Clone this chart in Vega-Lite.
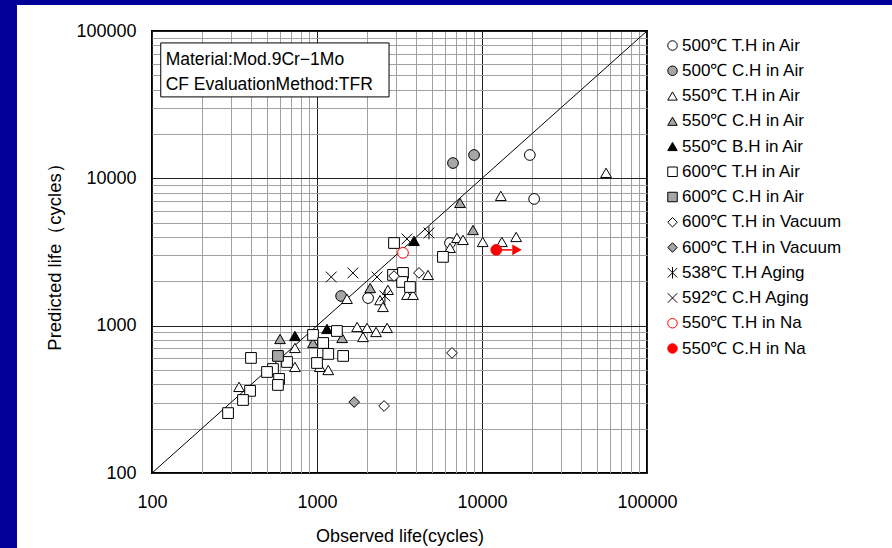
{
  "$schema": "https://vega.github.io/schema/vega-lite/v6.json",
  "autosize": {"type": "none"},
  "width": 495,
  "height": 442,
  "padding": {"left": 152, "top": 31, "right": 245, "bottom": 75},
  "background": "white",
  "config": {
    "font": "Liberation Sans",
    "view": {"stroke": "black", "strokeWidth": 2},
    "legend": {"orient": "none", "legendX": 512, "legendY": 6, "labelFontSize": 17, "labelColor": "black", "symbolSize": 90, "rowPadding": 7.25, "labelOffset": 1, "symbolStrokeWidth": 1, "padding": 0, "labelLimit": 300, "title": null}
  },
  "datasets": {
    "pts": [
      {"s": "500℃ T.H in Air", "x": 19500, "y": 14400},
      {"s": "500℃ T.H in Air", "x": 20700, "y": 7250},
      {"s": "500℃ T.H in Air", "x": 2040, "y": 1540},
      {"s": "500℃ T.H in Air", "x": 6400, "y": 3640},
      {"s": "500℃ C.H in Air", "x": 6670, "y": 12700},
      {"s": "500℃ C.H in Air", "x": 8950, "y": 14400},
      {"s": "500℃ C.H in Air", "x": 1400, "y": 1590},
      {"s": "550℃ T.H in Air", "x": 56500, "y": 10900},
      {"s": "550℃ T.H in Air", "x": 13000, "y": 7600},
      {"s": "550℃ T.H in Air", "x": 7050, "y": 3940},
      {"s": "550℃ T.H in Air", "x": 7670, "y": 3820},
      {"s": "550℃ T.H in Air", "x": 6400, "y": 3370},
      {"s": "550℃ T.H in Air", "x": 10100, "y": 3700},
      {"s": "550℃ T.H in Air", "x": 13200, "y": 3700},
      {"s": "550℃ T.H in Air", "x": 16100, "y": 4000},
      {"s": "550℃ T.H in Air", "x": 4710, "y": 2210},
      {"s": "550℃ T.H in Air", "x": 3510, "y": 1620},
      {"s": "550℃ T.H in Air", "x": 3820, "y": 1620},
      {"s": "550℃ T.H in Air", "x": 1520, "y": 1520},
      {"s": "550℃ T.H in Air", "x": 2410, "y": 1490},
      {"s": "550℃ T.H in Air", "x": 2510, "y": 1340},
      {"s": "550℃ T.H in Air", "x": 2690, "y": 1750},
      {"s": "550℃ T.H in Air", "x": 1750, "y": 980},
      {"s": "550℃ T.H in Air", "x": 1900, "y": 838},
      {"s": "550℃ T.H in Air", "x": 2010, "y": 965},
      {"s": "550℃ T.H in Air", "x": 2280, "y": 906},
      {"s": "550℃ T.H in Air", "x": 2660, "y": 965},
      {"s": "550℃ T.H in Air", "x": 735, "y": 706},
      {"s": "550℃ T.H in Air", "x": 735, "y": 525},
      {"s": "550℃ T.H in Air", "x": 1170, "y": 500},
      {"s": "550℃ T.H in Air", "x": 1040, "y": 525},
      {"s": "550℃ T.H in Air", "x": 337, "y": 384},
      {"s": "550℃ C.H in Air", "x": 7360, "y": 6810},
      {"s": "550℃ C.H in Air", "x": 8820, "y": 4460},
      {"s": "550℃ C.H in Air", "x": 2100, "y": 1800},
      {"s": "550℃ C.H in Air", "x": 597, "y": 812},
      {"s": "550℃ C.H in Air", "x": 946, "y": 763},
      {"s": "550℃ C.H in Air", "x": 1420, "y": 825},
      {"s": "550℃ B.H in Air", "x": 3870, "y": 3760},
      {"s": "550℃ B.H in Air", "x": 1150, "y": 950},
      {"s": "550℃ B.H in Air", "x": 735, "y": 851},
      {"s": "600℃ T.H in Air", "x": 5800, "y": 2930},
      {"s": "600℃ T.H in Air", "x": 2930, "y": 3640},
      {"s": "600℃ T.H in Air", "x": 2890, "y": 2210},
      {"s": "600℃ T.H in Air", "x": 3320, "y": 2280},
      {"s": "600℃ T.H in Air", "x": 3280, "y": 1980},
      {"s": "600℃ T.H in Air", "x": 3660, "y": 1830},
      {"s": "600℃ T.H in Air", "x": 946, "y": 865},
      {"s": "600℃ T.H in Air", "x": 1320, "y": 920},
      {"s": "600℃ T.H in Air", "x": 1090, "y": 763},
      {"s": "600℃ T.H in Air", "x": 1170, "y": 643},
      {"s": "600℃ T.H in Air", "x": 1440, "y": 623},
      {"s": "600℃ T.H in Air", "x": 1000, "y": 558},
      {"s": "600℃ T.H in Air", "x": 398, "y": 604},
      {"s": "600℃ T.H in Air", "x": 658, "y": 567},
      {"s": "600℃ T.H in Air", "x": 541, "y": 508},
      {"s": "600℃ T.H in Air", "x": 498, "y": 485},
      {"s": "600℃ T.H in Air", "x": 589, "y": 435},
      {"s": "600℃ T.H in Air", "x": 580, "y": 396},
      {"s": "600℃ T.H in Air", "x": 393, "y": 361},
      {"s": "600℃ T.H in Air", "x": 356, "y": 313},
      {"s": "600℃ T.H in Air", "x": 289, "y": 255},
      {"s": "600℃ C.H in Air", "x": 580, "y": 623},
      {"s": "600℃ T.H in Vacuum", "x": 2550, "y": 285},
      {"s": "600℃ T.H in Vacuum", "x": 6580, "y": 653},
      {"s": "600℃ T.H in Vacuum", "x": 2930, "y": 2170},
      {"s": "600℃ T.H in Vacuum", "x": 4150, "y": 2280},
      {"s": "600℃ T.H in Vacuum ", "x": 1680, "y": 303},
      {"s": "538℃ T.H Aging", "x": 4770, "y": 4260},
      {"s": "538℃ T.H Aging", "x": 2580, "y": 1590},
      {"s": "592℃ C.H Aging", "x": 1220, "y": 2140},
      {"s": "592℃ C.H Aging", "x": 1650, "y": 2280},
      {"s": "592℃ C.H Aging", "x": 2310, "y": 2140},
      {"s": "592℃ C.H Aging", "x": 3510, "y": 3880},
      {"s": "550℃ T.H in Na", "x": 3320, "y": 3120},
      {"s": "550℃ C.H in Na", "x": 12200, "y": 3270}
    ],
    "diag": [{"x": 100, "y": 100}, {"x": 100000, "y": 100000}]
  },
  "layer": [
    {
      "data": {"values": [{}]},
      "mark": {"type": "rect", "fill": "#000099"},
      "encoding": {"x": {"value": -152}, "x2": {"value": -135}, "y": {"value": -31}, "y2": {"value": 517}}
    },
    {
      "data": {"values": [{}]},
      "mark": {"type": "rect", "fill": "#000099"},
      "encoding": {"x": {"value": -152}, "x2": {"value": 740}, "y": {"value": -31}, "y2": {"value": -26}}
    },
    {
      "data": {"name": "diag"},
      "mark": {"type": "line", "color": "black", "strokeWidth": 1},
      "encoding": {
        "x": {"field": "x", "type": "quantitative", "scale": {"type": "log", "domain": [100, 100000], "nice": false}},
        "y": {"field": "y", "type": "quantitative", "scale": {"type": "log", "domain": [100, 100000], "nice": false}}
      }
    },
    {
      "data": {"name": "pts"},
      "mark": {"type": "point", "opacity": 1, "strokeWidth": 1, "size": 115},
      "encoding": {
        "x": {
          "field": "x", "type": "quantitative",
          "scale": {"type": "log", "domain": [100, 100000], "nice": false},
          "axis": {
            "title": "Observed life(cycles)",
            "values": [100, 200, 300, 400, 500, 600, 700, 800, 900, 1000, 2000, 3000, 4000, 5000, 6000, 7000, 8000, 9000, 10000, 20000, 30000, 40000, 50000, 60000, 70000, 80000, 90000, 100000],
            "format": "d",
            "labelExpr": "datum.value == 100 || datum.value == 1000 || datum.value == 10000 || datum.value == 100000 ? datum.label : ''",
            "labelOverlap": false, "labelFlush": false, "labelBound": false,
            "grid": true,
            "gridColor": {"condition": {"test": "datum.value == 100 || datum.value == 1000 || datum.value == 10000 || datum.value == 100000", "value": "#202020"}, "value": "#a0a0a0"},
            "gridWidth": 1,
            "ticks": false, "domain": false,
            "labelFontSize": 18, "labelColor": "black", "labelPadding": 20,
            "titleFontSize": 18, "titleFontWeight": "normal", "titleColor": "black", "titlePadding": 16
          }
        },
        "y": {
          "field": "y", "type": "quantitative",
          "scale": {"type": "log", "domain": [100, 100000], "nice": false},
          "axis": {
            "title": "Predicted life（cycles）",
            "values": [100, 200, 300, 400, 500, 600, 700, 800, 900, 1000, 2000, 3000, 4000, 5000, 6000, 7000, 8000, 9000, 10000, 20000, 30000, 40000, 50000, 60000, 70000, 80000, 90000, 100000],
            "format": "d",
            "labelExpr": "datum.value == 100 || datum.value == 1000 || datum.value == 10000 || datum.value == 100000 ? datum.label : ''",
            "labelOverlap": false, "labelFlush": false, "labelBound": false,
            "grid": true,
            "gridColor": {"condition": {"test": "datum.value == 100 || datum.value == 1000 || datum.value == 10000 || datum.value == 100000", "value": "#202020"}, "value": "#a0a0a0"},
            "gridWidth": 1,
            "ticks": false, "domain": false,
            "labelFontSize": 18, "labelColor": "black", "labelPadding": 16,
            "titleFontSize": 18.5, "titleFontWeight": "normal", "titleColor": "black", "titlePadding": 11
          }
        },
        "shape": {
          "field": "s", "type": "nominal",
          "scale": {
            "domain": ["500℃ T.H in Air", "500℃ C.H in Air", "550℃ T.H in Air", "550℃ C.H in Air", "550℃ B.H in Air", "600℃ T.H in Air", "600℃ C.H in Air", "600℃ T.H in Vacuum", "600℃ T.H in Vacuum ", "538℃ T.H Aging", "592℃ C.H Aging", "550℃ T.H in Na", "550℃ C.H in Na"],
            "range": ["circle", "circle", "triangle-up", "triangle-up", "triangle-up", "square", "square", "diamond", "diamond", "M-1,-1L1,1M1,-1L-1,1M0,-1.2L0,1.2", "M-1,-1L1,1M1,-1L-1,1", "circle", "circle"]
          }
        },
        "fill": {
          "field": "s", "type": "nominal",
          "scale": {
            "domain": ["500℃ T.H in Air", "500℃ C.H in Air", "550℃ T.H in Air", "550℃ C.H in Air", "550℃ B.H in Air", "600℃ T.H in Air", "600℃ C.H in Air", "600℃ T.H in Vacuum", "600℃ T.H in Vacuum ", "538℃ T.H Aging", "592℃ C.H Aging", "550℃ T.H in Na", "550℃ C.H in Na"],
            "range": ["white", "#a6a6a6", "white", "#a6a6a6", "black", "white", "#a6a6a6", "white", "#a6a6a6", "white", "white", "white", "#ff0000"]
          }
        },
        "stroke": {
          "field": "s", "type": "nominal",
          "scale": {
            "domain": ["500℃ T.H in Air", "500℃ C.H in Air", "550℃ T.H in Air", "550℃ C.H in Air", "550℃ B.H in Air", "600℃ T.H in Air", "600℃ C.H in Air", "600℃ T.H in Vacuum", "600℃ T.H in Vacuum ", "538℃ T.H Aging", "592℃ C.H Aging", "550℃ T.H in Na", "550℃ C.H in Na"],
            "range": ["black", "black", "black", "black", "black", "black", "black", "black", "black", "black", "black", "#ff0000", "#ff0000"]
          }
        }
      }
    },
    {
      "data": {"values": [{}]},
      "mark": {"type": "rule", "color": "#ff0000", "strokeWidth": 1.5},
      "encoding": {
        "x": {"datum": 12200, "type": "quantitative"},
        "x2": {"datum": 15200},
        "y": {"datum": 3270, "type": "quantitative"}
      }
    },
    {
      "data": {"values": [{}]},
      "mark": {"type": "point", "shape": "triangle-right", "filled": true, "color": "#ff0000", "opacity": 1, "size": 120},
      "encoding": {
        "x": {"datum": 16300, "type": "quantitative"},
        "y": {"datum": 3270, "type": "quantitative"}
      }
    },
    {
      "data": {"values": [{}]},
      "mark": {"type": "rect", "fill": "white", "stroke": "black", "strokeWidth": 1},
      "encoding": {
        "x": {"datum": 113, "type": "quantitative"},
        "x2": {"datum": 2733},
        "y": {"datum": 35700, "type": "quantitative"},
        "y2": {"datum": 83000}
      }
    },
    {
      "data": {"values": [{"t": "Material:Mod.9Cr−1Mo", "ty": 63700}, {"t": "CF EvaluationMethod:TFR", "ty": 43000}]},
      "mark": {"type": "text", "align": "left", "baseline": "middle", "fontSize": 17.5, "color": "black"},
      "encoding": {
        "x": {"datum": 121, "type": "quantitative"},
        "y": {"field": "ty", "type": "quantitative"},
        "text": {"field": "t"}
      }
    }
  ]
}
